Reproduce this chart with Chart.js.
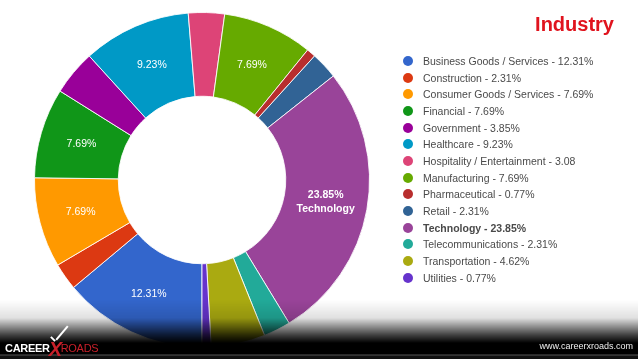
<!DOCTYPE html>
<html>
<head>
<meta charset="utf-8">
<script src="https://cdn.jsdelivr.net/npm/chart.js@4.4.1/dist/chart.umd.min.js"></script>
<style>
  html, body { margin: 0; padding: 0; background: #fff; }
  #wrap { position: relative; width: 638px; height: 359px; overflow: hidden; font-family: Arial, "Liberation Sans", sans-serif; }
  #myChart { position: absolute; left: 0; top: 0; }
  #title { position: absolute; right: 24px; top: 13px; color: #e0141e; font-weight: bold; font-size: 20px; }
  #legend { position: absolute; left: 403px; top: 53px; margin: 0; padding: 0; list-style: none; }
  #legend li { height: 16.67px; line-height: 16px; font-size: 10.5px; color: #4a4a4a; white-space: nowrap; }
  #legend li span { display: inline-block; width: 10px; height: 10px; border-radius: 50%; margin-right: 10px; vertical-align: -1px; }
  #footer { position: absolute; left: 0; top: 300px; width: 638px; height: 59px;
    background: linear-gradient(to bottom, rgba(0,0,0,0) 0px, rgba(0,0,0,0.12) 18px, rgba(0,0,0,0.75) 35px, #000 43px, #000 54px, #555 55px, #111 56px); }
  #logo { position: absolute; left: 5px; top: 38px; font-weight: bold; font-size: 11px; color: #fff; letter-spacing: -0.3px; }
  #logo .x { color: #c8202a; font-size: 20px; font-style: italic; vertical-align: -4px; margin: 0 -1px; }
  #logo .r { color: #c8202a; font-weight: normal; }
  #check1 { position: absolute; left: 50px; top: 38px; width: 6px; height: 2px; background: #fff; transform: rotate(45deg); }
  #check2 { position: absolute; left: 53px; top: 32px; width: 18px; height: 2px; background: #fff; transform: rotate(-50deg); }
  #url { position: absolute; right: 5px; top: 41px; color: #eee; font-size: 9px; }
</style>
</head>
<body>
<div id="wrap">
  <canvas id="myChart" width="638" height="359"></canvas>
  <div id="title">Industry</div>
  <ul id="legend"></ul>
  <div id="footer">
    <div id="logo">CAREER<span class="x">X</span><span class="r">ROADS</span></div>
    <div id="check1"></div><div id="check2"></div>
    <div id="url">www.careerxroads.com</div>
  </div>
</div>
<script>
const industries = [
  "Business Goods / Services", "Construction", "Consumer Goods / Services",
  "Financial", "Government", "Healthcare", "Hospitality / Entertainment",
  "Manufacturing", "Pharmaceutical", "Retail", "Technology",
  "Telecommunications", "Transportation", "Utilities"
];
const shares = [12.31, 2.31, 7.69, 7.69, 3.85, 9.23, 3.08, 7.69, 0.77, 2.31, 23.85, 2.31, 4.62, 0.77];
const colors = [
  "#3366cc", "#dc3912", "#ff9900", "#109618", "#990099", "#0099c6", "#dd4477",
  "#66aa00", "#b82e2e", "#316395", "#994499", "#22aa99", "#aaaa11", "#6633cc"
];
const highlight = "Technology";
const noPercent = ["Hospitality / Entertainment"];
const minLabel = 7;

// legend
var legend = document.getElementById("legend");
for (var i = 0; i < industries.length; i++) {
  var li = document.createElement("li");
  var dot = document.createElement("span");
  dot.style.background = colors[i];
  li.appendChild(dot);
  var txt = industries[i] + " - " + shares[i].toFixed(2) + (noPercent.indexOf(industries[i]) >= 0 ? "" : "%");
  li.appendChild(document.createTextNode(txt));
  if (industries[i] == highlight) {
    li.style.fontWeight = "bold";
  }
  legend.appendChild(li);
}

// slice text, placed in the middle of the ring
const sliceText = {
  id: "sliceText",
  afterDatasetsDraw(chart) {
    const ctx = chart.ctx;
    const meta = chart.getDatasetMeta(0);
    ctx.save();
    ctx.fillStyle = "#fff";
    ctx.textAlign = "center";
    ctx.textBaseline = "middle";
    meta.data.forEach(function (arc, i) {
      if (shares[i] < minLabel) return;
      const p = arc.tooltipPosition();
      const pct = shares[i].toFixed(2) + "%";
      if (industries[i] == highlight) {
        ctx.font = "bold 10.5px Arial";
        ctx.fillText(pct, p.x, p.y - 7);
        ctx.fillText(industries[i], p.x, p.y + 7);
      } else {
        ctx.font = "10.5px Arial";
        ctx.fillText(pct, p.x, p.y);
      }
    });
    ctx.restore();
  }
};

var myChart = new Chart(document.getElementById("myChart"), {
  type: "doughnut",
  data: {
    labels: industries,
    datasets: [{
      data: shares,
      backgroundColor: colors,
      borderColor: "rgba(255,255,255,0.85)",
      borderWidth: 1,
    }],
  },
  options: {
    responsive: false,
    animation: false,
    cutout: "50%",
    rotation: 180,
    layout: { padding: { left: 34, right: 268, top: 12, bottom: 11 } },
    plugins: {
      legend: { display: false },
      tooltip: { enabled: false },
    },
  },
  plugins: [sliceText],
});
</script>
</body>
</html>
